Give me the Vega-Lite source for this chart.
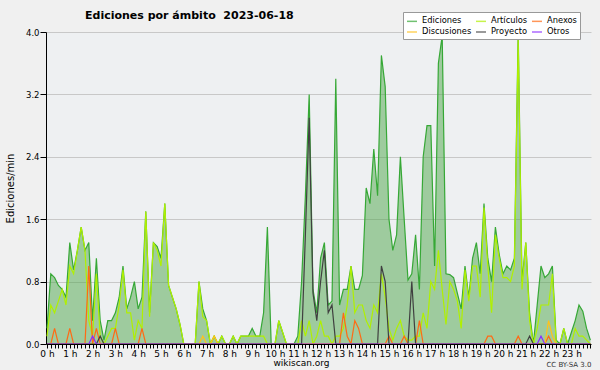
{
  "$schema": "https://vega.github.io/schema/vega-lite/v6.json",
  "width": 545,
  "height": 312,
  "autosize": {"type": "none"},
  "padding": {"left": 46, "top": 32, "right": 9, "bottom": 26},
  "background": "#f0f0f0",
  "config": {"view": {"fill": "#eef0f2", "stroke": null}, "font": "DejaVu Sans"},
  "title": {"text": "Ediciones por ámbito\u00a0\u00a02023-06-18", "anchor": "start", "frame": "group", "dx": 39, "dy": 15, "fontSize": 11, "fontWeight": "bold", "font": "DejaVu Sans", "color": "#000000", "offset": 6},
  "data": {"values": [
    {"m":0,"Ediciones":0.2,"Artículos":0.1,"Anexos":0,"Discusiones":0,"Proyecto":0,"Otros":0},
    {"m":10,"Ediciones":0.9,"Artículos":0.5,"Anexos":0,"Discusiones":0,"Proyecto":0,"Otros":0},
    {"m":20,"Ediciones":0.85,"Artículos":0.4,"Anexos":0.2,"Discusiones":0,"Proyecto":0,"Otros":0},
    {"m":30,"Ediciones":0.75,"Artículos":0.55,"Anexos":0,"Discusiones":0,"Proyecto":0,"Otros":0},
    {"m":40,"Ediciones":0.7,"Artículos":0.7,"Anexos":0,"Discusiones":0,"Proyecto":0,"Otros":0},
    {"m":50,"Ediciones":0.6,"Artículos":0.5,"Anexos":0,"Discusiones":0,"Proyecto":0,"Otros":0},
    {"m":60,"Ediciones":1.3,"Artículos":1.0,"Anexos":0.2,"Discusiones":0,"Proyecto":0,"Otros":0},
    {"m":70,"Ediciones":0.95,"Artículos":0.9,"Anexos":0,"Discusiones":0,"Proyecto":0,"Otros":0},
    {"m":80,"Ediciones":1.2,"Artículos":1.2,"Anexos":0,"Discusiones":0,"Proyecto":0,"Otros":0},
    {"m":90,"Ediciones":1.5,"Artículos":1.5,"Anexos":0,"Discusiones":0,"Proyecto":0,"Otros":0},
    {"m":100,"Ediciones":1.2,"Artículos":1.2,"Anexos":0,"Discusiones":0,"Proyecto":0,"Otros":0},
    {"m":110,"Ediciones":1.3,"Artículos":0.3,"Anexos":1.0,"Discusiones":0,"Proyecto":0,"Otros":0},
    {"m":120,"Ediciones":0.3,"Artículos":0.1,"Anexos":0,"Discusiones":0,"Proyecto":0,"Otros":0.1},
    {"m":130,"Ediciones":1.1,"Artículos":0.9,"Anexos":0.2,"Discusiones":0,"Proyecto":0,"Otros":0},
    {"m":140,"Ediciones":0.3,"Artículos":0.1,"Anexos":0,"Discusiones":0,"Proyecto":0.1,"Otros":0},
    {"m":150,"Ediciones":0.05,"Artículos":0,"Anexos":0,"Discusiones":0,"Proyecto":0,"Otros":0},
    {"m":160,"Ediciones":0.3,"Artículos":0.1,"Anexos":0,"Discusiones":0,"Proyecto":0,"Otros":0},
    {"m":170,"Ediciones":0.3,"Artículos":0.2,"Anexos":0,"Discusiones":0,"Proyecto":0,"Otros":0},
    {"m":180,"Ediciones":0.4,"Artículos":0.2,"Anexos":0.2,"Discusiones":0,"Proyecto":0,"Otros":0},
    {"m":190,"Ediciones":0.6,"Artículos":0.5,"Anexos":0,"Discusiones":0,"Proyecto":0,"Otros":0},
    {"m":200,"Ediciones":1.0,"Artículos":0.95,"Anexos":0,"Discusiones":0,"Proyecto":0,"Otros":0},
    {"m":210,"Ediciones":0.45,"Artículos":0.4,"Anexos":0,"Discusiones":0,"Proyecto":0,"Otros":0},
    {"m":220,"Ediciones":0.6,"Artículos":0.4,"Anexos":0,"Discusiones":0,"Proyecto":0,"Otros":0},
    {"m":230,"Ediciones":0.8,"Artículos":0.05,"Anexos":0,"Discusiones":0,"Proyecto":0,"Otros":0},
    {"m":240,"Ediciones":0.45,"Artículos":0.3,"Anexos":0,"Discusiones":0,"Proyecto":0,"Otros":0},
    {"m":250,"Ediciones":0.6,"Artículos":0.2,"Anexos":0.2,"Discusiones":0,"Proyecto":0,"Otros":0},
    {"m":260,"Ediciones":1.7,"Artículos":1.7,"Anexos":0,"Discusiones":0,"Proyecto":0,"Otros":0},
    {"m":270,"Ediciones":0.4,"Artículos":0.35,"Anexos":0,"Discusiones":0,"Proyecto":0,"Otros":0},
    {"m":280,"Ediciones":1.3,"Artículos":1.3,"Anexos":0,"Discusiones":0,"Proyecto":0,"Otros":0},
    {"m":290,"Ediciones":1.25,"Artículos":1.2,"Anexos":0,"Discusiones":0,"Proyecto":0,"Otros":0},
    {"m":300,"Ediciones":1.1,"Artículos":1.0,"Anexos":0,"Discusiones":0,"Proyecto":0,"Otros":0},
    {"m":310,"Ediciones":1.8,"Artículos":1.8,"Anexos":0,"Discusiones":0,"Proyecto":0,"Otros":0},
    {"m":320,"Ediciones":0.75,"Artículos":0.75,"Anexos":0,"Discusiones":0,"Proyecto":0,"Otros":0},
    {"m":330,"Ediciones":0.6,"Artículos":0.6,"Anexos":0,"Discusiones":0,"Proyecto":0,"Otros":0},
    {"m":340,"Ediciones":0.45,"Artículos":0.45,"Anexos":0,"Discusiones":0,"Proyecto":0,"Otros":0},
    {"m":350,"Ediciones":0.25,"Artículos":0.25,"Anexos":0,"Discusiones":0,"Proyecto":0,"Otros":0},
    {"m":360,"Ediciones":0,"Artículos":0,"Anexos":0,"Discusiones":0,"Proyecto":0,"Otros":0},
    {"m":370,"Ediciones":0,"Artículos":0,"Anexos":0,"Discusiones":0,"Proyecto":0,"Otros":0},
    {"m":380,"Ediciones":0,"Artículos":0,"Anexos":0,"Discusiones":0,"Proyecto":0,"Otros":0},
    {"m":390,"Ediciones":0,"Artículos":0,"Anexos":0,"Discusiones":0,"Proyecto":0,"Otros":0},
    {"m":400,"Ediciones":0.8,"Artículos":0.8,"Anexos":0,"Discusiones":0,"Proyecto":0,"Otros":0},
    {"m":410,"Ediciones":0.45,"Artículos":0.35,"Anexos":0,"Discusiones":0.1,"Proyecto":0,"Otros":0},
    {"m":420,"Ediciones":0.3,"Artículos":0.3,"Anexos":0,"Discusiones":0,"Proyecto":0,"Otros":0},
    {"m":430,"Ediciones":0,"Artículos":0,"Anexos":0,"Discusiones":0,"Proyecto":0,"Otros":0},
    {"m":440,"Ediciones":0.1,"Artículos":0.1,"Anexos":0,"Discusiones":0.1,"Proyecto":0,"Otros":0},
    {"m":450,"Ediciones":0,"Artículos":0,"Anexos":0,"Discusiones":0,"Proyecto":0,"Otros":0},
    {"m":460,"Ediciones":0.1,"Artículos":0.1,"Anexos":0,"Discusiones":0,"Proyecto":0,"Otros":0},
    {"m":470,"Ediciones":0,"Artículos":0,"Anexos":0,"Discusiones":0,"Proyecto":0,"Otros":0},
    {"m":480,"Ediciones":0,"Artículos":0,"Anexos":0,"Discusiones":0,"Proyecto":0,"Otros":0},
    {"m":490,"Ediciones":0.1,"Artículos":0.1,"Anexos":0,"Discusiones":0,"Proyecto":0,"Otros":0},
    {"m":500,"Ediciones":0,"Artículos":0,"Anexos":0,"Discusiones":0,"Proyecto":0,"Otros":0},
    {"m":510,"Ediciones":0.1,"Artículos":0.1,"Anexos":0,"Discusiones":0,"Proyecto":0,"Otros":0},
    {"m":520,"Ediciones":0.1,"Artículos":0.1,"Anexos":0,"Discusiones":0,"Proyecto":0,"Otros":0},
    {"m":530,"Ediciones":0.1,"Artículos":0.1,"Anexos":0,"Discusiones":0,"Proyecto":0,"Otros":0},
    {"m":540,"Ediciones":0.2,"Artículos":0.1,"Anexos":0,"Discusiones":0,"Proyecto":0,"Otros":0},
    {"m":550,"Ediciones":0.1,"Artículos":0.1,"Anexos":0,"Discusiones":0,"Proyecto":0,"Otros":0},
    {"m":560,"Ediciones":0.1,"Artículos":0.1,"Anexos":0,"Discusiones":0,"Proyecto":0,"Otros":0},
    {"m":570,"Ediciones":0.4,"Artículos":0.1,"Anexos":0,"Discusiones":0,"Proyecto":0,"Otros":0},
    {"m":580,"Ediciones":1.5,"Artículos":0,"Anexos":0,"Discusiones":0,"Proyecto":0,"Otros":0},
    {"m":590,"Ediciones":0,"Artículos":0,"Anexos":0,"Discusiones":0,"Proyecto":0,"Otros":0},
    {"m":600,"Ediciones":0,"Artículos":0,"Anexos":0,"Discusiones":0,"Proyecto":0,"Otros":0},
    {"m":610,"Ediciones":0.3,"Artículos":0.3,"Anexos":0,"Discusiones":0,"Proyecto":0,"Otros":0},
    {"m":620,"Ediciones":0.15,"Artículos":0.15,"Anexos":0,"Discusiones":0,"Proyecto":0,"Otros":0},
    {"m":630,"Ediciones":0,"Artículos":0,"Anexos":0,"Discusiones":0,"Proyecto":0,"Otros":0},
    {"m":640,"Ediciones":0,"Artículos":0,"Anexos":0,"Discusiones":0,"Proyecto":0,"Otros":0},
    {"m":650,"Ediciones":0,"Artículos":0,"Anexos":0,"Discusiones":0,"Proyecto":0,"Otros":0},
    {"m":660,"Ediciones":0.1,"Artículos":0,"Anexos":0,"Discusiones":0,"Proyecto":0,"Otros":0},
    {"m":670,"Ediciones":0.8,"Artículos":0.3,"Anexos":0,"Discusiones":0,"Proyecto":0,"Otros":0},
    {"m":680,"Ediciones":1.9,"Artículos":0.1,"Anexos":0,"Discusiones":0,"Proyecto":1.4,"Otros":0},
    {"m":690,"Ediciones":3.2,"Artículos":0.3,"Anexos":0,"Discusiones":0,"Proyecto":2.9,"Otros":0},
    {"m":700,"Ediciones":0.7,"Artículos":0,"Anexos":0,"Discusiones":0,"Proyecto":0.65,"Otros":0},
    {"m":710,"Ediciones":0.4,"Artículos":0.1,"Anexos":0,"Discusiones":0,"Proyecto":0.3,"Otros":0},
    {"m":720,"Ediciones":1.1,"Artículos":0.3,"Anexos":0,"Discusiones":0,"Proyecto":0.8,"Otros":0},
    {"m":730,"Ediciones":1.3,"Artículos":0.1,"Anexos":0,"Discusiones":0,"Proyecto":1.2,"Otros":0},
    {"m":740,"Ediciones":0.5,"Artículos":0.1,"Anexos":0,"Discusiones":0,"Proyecto":0.4,"Otros":0},
    {"m":750,"Ediciones":0.55,"Artículos":0,"Anexos":0,"Discusiones":0,"Proyecto":0.5,"Otros":0},
    {"m":760,"Ediciones":3.4,"Artículos":0.1,"Anexos":0,"Discusiones":0,"Proyecto":0,"Otros":0},
    {"m":770,"Ediciones":0.5,"Artículos":0.1,"Anexos":0,"Discusiones":0,"Proyecto":0,"Otros":0},
    {"m":780,"Ediciones":0.7,"Artículos":0.2,"Anexos":0.4,"Discusiones":0,"Proyecto":0,"Otros":0},
    {"m":790,"Ediciones":0.7,"Artículos":0.5,"Anexos":0.1,"Discusiones":0,"Proyecto":0,"Otros":0},
    {"m":800,"Ediciones":1.0,"Artículos":1.0,"Anexos":0,"Discusiones":0,"Proyecto":0,"Otros":0},
    {"m":810,"Ediciones":0.7,"Artículos":0.4,"Anexos":0.3,"Discusiones":0,"Proyecto":0,"Otros":0},
    {"m":820,"Ediciones":0.7,"Artículos":0.5,"Anexos":0.2,"Discusiones":0,"Proyecto":0,"Otros":0},
    {"m":830,"Ediciones":0.88,"Artículos":0.5,"Anexos":0,"Discusiones":0,"Proyecto":0,"Otros":0},
    {"m":840,"Ediciones":2.0,"Artículos":0.3,"Anexos":0,"Discusiones":0,"Proyecto":0,"Otros":0},
    {"m":850,"Ediciones":1.8,"Artículos":0.2,"Anexos":0,"Discusiones":0,"Proyecto":0,"Otros":0},
    {"m":860,"Ediciones":2.5,"Artículos":0.5,"Anexos":0,"Discusiones":0,"Proyecto":0,"Otros":0},
    {"m":870,"Ediciones":1.9,"Artículos":0.4,"Anexos":0,"Discusiones":0,"Proyecto":0,"Otros":0},
    {"m":880,"Ediciones":3.7,"Artículos":0.9,"Anexos":0,"Discusiones":0,"Proyecto":1.0,"Otros":0},
    {"m":890,"Ediciones":3.3,"Artículos":0.6,"Anexos":0,"Discusiones":0,"Proyecto":0.8,"Otros":0},
    {"m":900,"Ediciones":1.6,"Artículos":0.2,"Anexos":0.1,"Discusiones":0,"Proyecto":0,"Otros":0},
    {"m":910,"Ediciones":1.2,"Artículos":0.05,"Anexos":0,"Discusiones":0,"Proyecto":0,"Otros":0},
    {"m":920,"Ediciones":1.4,"Artículos":0.2,"Anexos":0,"Discusiones":0,"Proyecto":0,"Otros":0},
    {"m":930,"Ediciones":2.4,"Artículos":0.3,"Anexos":0,"Discusiones":0,"Proyecto":0,"Otros":0},
    {"m":940,"Ediciones":1.6,"Artículos":0.1,"Anexos":0.1,"Discusiones":0,"Proyecto":0,"Otros":0},
    {"m":950,"Ediciones":0.82,"Artículos":0.05,"Anexos":0,"Discusiones":0,"Proyecto":0,"Otros":0},
    {"m":960,"Ediciones":0.9,"Artículos":0.05,"Anexos":0,"Discusiones":0,"Proyecto":0.8,"Otros":0},
    {"m":970,"Ediciones":1.4,"Artículos":0.1,"Anexos":0,"Discusiones":0,"Proyecto":0,"Otros":0},
    {"m":980,"Ediciones":0.7,"Artículos":0.1,"Anexos":0.3,"Discusiones":0,"Proyecto":0,"Otros":0},
    {"m":990,"Ediciones":2.4,"Artículos":0.4,"Anexos":0,"Discusiones":0,"Proyecto":0,"Otros":0},
    {"m":1000,"Ediciones":2.8,"Artículos":0.2,"Anexos":0,"Discusiones":0,"Proyecto":0,"Otros":0},
    {"m":1010,"Ediciones":2.8,"Artículos":0.8,"Anexos":0,"Discusiones":0,"Proyecto":0,"Otros":0},
    {"m":1020,"Ediciones":1.0,"Artículos":0.7,"Anexos":0,"Discusiones":0,"Proyecto":0,"Otros":0},
    {"m":1030,"Ediciones":3.6,"Artículos":1.2,"Anexos":0,"Discusiones":0,"Proyecto":0,"Otros":0},
    {"m":1040,"Ediciones":3.95,"Artículos":0.7,"Anexos":0,"Discusiones":0,"Proyecto":0,"Otros":0},
    {"m":1050,"Ediciones":0.9,"Artículos":0.25,"Anexos":0,"Discusiones":0,"Proyecto":0,"Otros":0},
    {"m":1060,"Ediciones":0.89,"Artículos":0.8,"Anexos":0,"Discusiones":0,"Proyecto":0,"Otros":0},
    {"m":1070,"Ediciones":0.85,"Artículos":0.7,"Anexos":0,"Discusiones":0,"Proyecto":0,"Otros":0},
    {"m":1080,"Ediciones":0.65,"Artículos":0.55,"Anexos":0,"Discusiones":0,"Proyecto":0,"Otros":0},
    {"m":1090,"Ediciones":0.45,"Artículos":0.2,"Anexos":0,"Discusiones":0,"Proyecto":0,"Otros":0},
    {"m":1100,"Ediciones":1.0,"Artículos":0.95,"Anexos":0,"Discusiones":0,"Proyecto":0,"Otros":0},
    {"m":1110,"Ediciones":0.6,"Artículos":0.55,"Anexos":0,"Discusiones":0,"Proyecto":0,"Otros":0},
    {"m":1120,"Ediciones":1.1,"Artículos":1.0,"Anexos":0,"Discusiones":0,"Proyecto":0,"Otros":0},
    {"m":1130,"Ediciones":1.3,"Artículos":1.0,"Anexos":0,"Discusiones":0,"Proyecto":0,"Otros":0},
    {"m":1140,"Ediciones":0.9,"Artículos":0.6,"Anexos":0,"Discusiones":0,"Proyecto":0,"Otros":0},
    {"m":1150,"Ediciones":1.8,"Artículos":1.75,"Anexos":0,"Discusiones":0,"Proyecto":0,"Otros":0},
    {"m":1160,"Ediciones":1.1,"Artículos":1.0,"Anexos":0.1,"Discusiones":0,"Proyecto":0,"Otros":0},
    {"m":1170,"Ediciones":0.8,"Artículos":0.4,"Anexos":0.1,"Discusiones":0,"Proyecto":0,"Otros":0},
    {"m":1180,"Ediciones":1.5,"Artículos":1.4,"Anexos":0,"Discusiones":0,"Proyecto":0,"Otros":0},
    {"m":1190,"Ediciones":1.15,"Artículos":1.1,"Anexos":0,"Discusiones":0,"Proyecto":0,"Otros":0},
    {"m":1200,"Ediciones":0.9,"Artículos":0.85,"Anexos":0,"Discusiones":0,"Proyecto":0,"Otros":0},
    {"m":1210,"Ediciones":1.0,"Artículos":0.85,"Anexos":0,"Discusiones":0,"Proyecto":0,"Otros":0},
    {"m":1220,"Ediciones":0.95,"Artículos":0.8,"Anexos":0,"Discusiones":0,"Proyecto":0,"Otros":0},
    {"m":1230,"Ediciones":1.1,"Artículos":1.0,"Anexos":0,"Discusiones":0,"Proyecto":0,"Otros":0},
    {"m":1240,"Ediciones":4.0,"Artículos":3.9,"Anexos":0.1,"Discusiones":0,"Proyecto":0,"Otros":0},
    {"m":1250,"Ediciones":0.8,"Artículos":0.7,"Anexos":0,"Discusiones":0,"Proyecto":0,"Otros":0},
    {"m":1260,"Ediciones":1.3,"Artículos":1.3,"Anexos":0,"Discusiones":0,"Proyecto":0,"Otros":0},
    {"m":1270,"Ediciones":0.4,"Artículos":0.3,"Anexos":0,"Discusiones":0,"Proyecto":0.1,"Otros":0},
    {"m":1280,"Ediciones":0,"Artículos":0,"Anexos":0,"Discusiones":0,"Proyecto":0,"Otros":0},
    {"m":1290,"Ediciones":0.5,"Artículos":0.2,"Anexos":0,"Discusiones":0,"Proyecto":0,"Otros":0},
    {"m":1300,"Ediciones":1.0,"Artículos":0.5,"Anexos":0,"Discusiones":0,"Proyecto":0,"Otros":0.1},
    {"m":1310,"Ediciones":0.85,"Artículos":0.5,"Anexos":0,"Discusiones":0,"Proyecto":0,"Otros":0},
    {"m":1320,"Ediciones":0.9,"Artículos":0.5,"Anexos":0.1,"Discusiones":0.3,"Proyecto":0,"Otros":0},
    {"m":1330,"Ediciones":1.0,"Artículos":0.9,"Anexos":0,"Discusiones":0.1,"Proyecto":0,"Otros":0},
    {"m":1340,"Ediciones":0.05,"Artículos":0,"Anexos":0,"Discusiones":0,"Proyecto":0,"Otros":0},
    {"m":1350,"Ediciones":0,"Artículos":0,"Anexos":0,"Discusiones":0,"Proyecto":0,"Otros":0},
    {"m":1360,"Ediciones":0.2,"Artículos":0.2,"Anexos":0,"Discusiones":0,"Proyecto":0,"Otros":0},
    {"m":1370,"Ediciones":0,"Artículos":0,"Anexos":0,"Discusiones":0,"Proyecto":0,"Otros":0},
    {"m":1380,"Ediciones":0.15,"Artículos":0,"Anexos":0,"Discusiones":0,"Proyecto":0,"Otros":0},
    {"m":1390,"Ediciones":0.3,"Artículos":0.2,"Anexos":0,"Discusiones":0,"Proyecto":0,"Otros":0},
    {"m":1400,"Ediciones":0.5,"Artículos":0.1,"Anexos":0,"Discusiones":0,"Proyecto":0,"Otros":0},
    {"m":1410,"Ediciones":0.42,"Artículos":0.1,"Anexos":0,"Discusiones":0,"Proyecto":0,"Otros":0},
    {"m":1420,"Ediciones":0.2,"Artículos":0.05,"Anexos":0,"Discusiones":0,"Proyecto":0,"Otros":0},
    {"m":1430,"Ediciones":0.05,"Artículos":0,"Anexos":0,"Discusiones":0,"Proyecto":0,"Otros":0}
  ]},
  "layer": [
    {
      "mark": {"type": "area", "color": "#4ea64a", "opacity": 0.5, "clip": true},
      "encoding": {
        "x": {"field": "m", "type": "quantitative",
          "scale": {"domain": [-2.6, 1431.6], "nice": false, "zero": false},
          "axis": {
            "orient": "bottom",
            "values": [0,10,20,30,40,50,60,70,80,90,100,110,120,130,140,150,160,170,180,190,200,210,220,230,240,250,260,270,280,290,300,310,320,330,340,350,360,370,380,390,400,410,420,430,440,450,460,470,480,490,500,510,520,530,540,550,560,570,580,590,600,610,620,630,640,650,660,670,680,690,700,710,720,730,740,750,760,770,780,790,800,810,820,830,840,850,860,870,880,890,900,910,920,930,940,950,960,970,980,990,1000,1010,1020,1030,1040,1050,1060,1070,1080,1090,1100,1110,1120,1130,1140,1150,1160,1170,1180,1190,1200,1210,1220,1230,1240,1250,1260,1270,1280,1290,1300,1310,1320,1330,1340,1350,1360,1370,1380,1390,1400,1410,1420,1430],
            "labelExpr": "datum.value % 60 == 0 ? (datum.value / 60) + ' h' : ''",
            "labelOverlap": false, "labelFlush": false, "labelFontSize": 9, "labelColor": "#000000", "labelPadding": 1,
            "tickSize": 4, "tickColor": "#000000", "domainColor": "#000000", "grid": false, "zindex": 1,
            "title": "wikiscan.org", "titleFontSize": 9, "titleFontWeight": "normal", "titleColor": "#000000",
            "titleX": 255, "titleY": 21, "titleBaseline": "alphabetic"
          }
        },
        "y": {"field": "Ediciones", "type": "quantitative", "title": "Ediciones/min",
          "scale": {"domain": [0, 4], "nice": false},
          "axis": {
            "values": [0,0.2,0.4,0.6,0.8,1,1.2,1.4,1.6,1.8,2,2.2,2.4,2.6,2.8,3,3.2,3.4,3.6,3.8,4],
            "labelExpr": "round(datum.value * 10) % 8 == 0 ? format(datum.value, '.1f') : ''",
            "labelOverlap": false, "labelFontSize": 8.5, "labelColor": "#000000", "labelPadding": 1,
            "tickSize": {"condition": {"test": "round(datum.value * 10) % 8 == 0", "value": 6}, "value": 3},
            "tickColor": "#000000", "domainColor": "#000000",
            "grid": true, "gridColor": "#c8c8c8",
            "gridOpacity": {"condition": {"test": "round(datum.value * 10) % 8 == 0 && datum.value > 0", "value": 1}, "value": 0},
            "titleFontSize": 10, "titleFontWeight": "normal", "titleColor": "#000000", "titlePadding": 10
          }
        }
      }
    },
    {
      "transform": [{"fold": ["Ediciones", "Artículos", "Anexos", "Discusiones", "Proyecto", "Otros"], "as": ["serie", "v"]}],
      "mark": {"type": "line", "strokeWidth": 1.2, "clip": true},
      "encoding": {
        "x": {"field": "m", "type": "quantitative",
          "axis": {"orient": "bottom", "domain": false, "ticks": false, "labels": false, "grid": false,
            "title": "CC BY-SA 3.0", "titleFontSize": 7, "titleFontWeight": "normal", "titleColor": "#333333",
            "titleAnchor": "end", "titleY": 22, "titleBaseline": "alphabetic"}
        },
        "y": {"field": "v", "type": "quantitative", "title": "Ediciones/min"},
        "color": {"field": "serie", "type": "nominal",
          "scale": {"domain": ["Ediciones", "Artículos", "Anexos", "Discusiones", "Proyecto", "Otros"],
                    "range": ["#36a836", "#b0f000", "#ff6a14", "#ffc21a", "#404040", "#8a2cff"]},
          "legend": {"title": null, "orient": "none", "legendX": 357, "legendY": -20, "direction": "horizontal", "columns": 3,
            "symbolType": "stroke", "symbolStrokeWidth": 1.5, "symbolSize": 100, "symbolOpacity": 0.7,
            "labelFontSize": 8.3, "labelFont": "DejaVu Sans", "labelColor": "#000000", "labelOffset": 4, "labelLimit": 100,
            "fillColor": "#ffffff", "strokeColor": "#999999", "padding": 3, "rowPadding": 1, "columnPadding": 1}
        }
      }
    }
  ],
  "resolve": {"axis": {"x": "independent"}}
}
